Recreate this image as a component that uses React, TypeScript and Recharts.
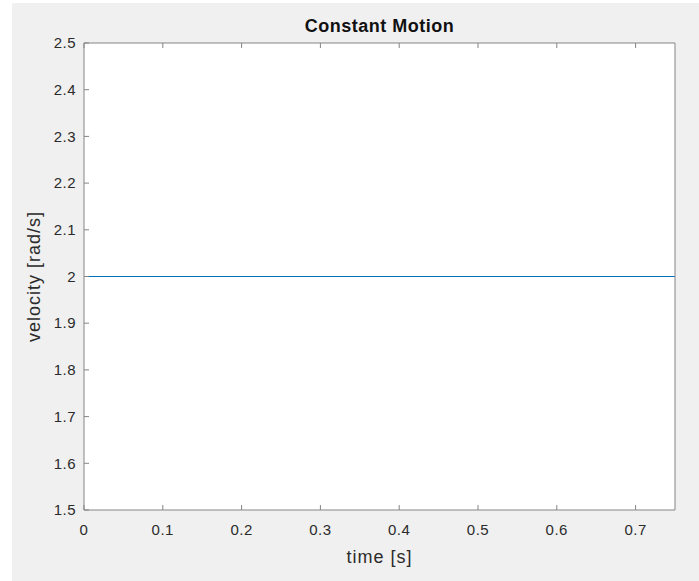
import { LineChart, Line, XAxis, YAxis, CartesianGrid, Label } from "recharts";

const timeValues = [0, 0.75];
const velocityValues = [2, 2];
const xTicks = [0, 0.1, 0.2, 0.3, 0.4, 0.5, 0.6, 0.7];
const yTicks = [1.5, 1.6, 1.7, 1.8, 1.9, 2, 2.1, 2.2, 2.3, 2.4, 2.5];

const data = timeValues.map((t, i) => ({ t, v: velocityValues[i] }));

const AXIS = "#858585";
const TEXT = "#2b2b2b";
const FONT = "'Liberation Sans', Arial, Helvetica, sans-serif";

const fmt = (v: number) => String(Number(v.toFixed(2)));

function BottomTick({ x, y, payload }: any) {
  return (
    <g>
      <line x1={x} y1={y} x2={x} y2={y - 5} stroke={AXIS} />
      <text
        x={x}
        y={y + 20}
        dy="0.35em"
        textAnchor="middle"
        fill={TEXT}
        fontSize={15}
        letterSpacing={0.5}
        fontFamily={FONT}
      >
        {fmt(payload.value)}
      </text>
    </g>
  );
}

function TopTick({ x, y }: any) {
  return <line x1={x} y1={y} x2={x} y2={y + 5} stroke={AXIS} />;
}

function LeftTick({ x, y, payload }: any) {
  return (
    <g>
      <line x1={x} y1={y} x2={x + 5} y2={y} stroke={AXIS} />
      <text
        x={x - 8}
        y={y}
        dy="0.35em"
        textAnchor="end"
        fill={TEXT}
        fontSize={15}
        letterSpacing={0.5}
        fontFamily={FONT}
      >
        {fmt(payload.value)}
      </text>
    </g>
  );
}

function RightTick({ x, y }: any) {
  return <line x1={x} y1={y} x2={x - 5} y2={y} stroke={AXIS} />;
}

export default function App() {
  return (
    <div style={{ position: "absolute", left: 0, top: 0, width: 699, height: 581, background: "#fff" }}>
      <div style={{ position: "absolute", left: 12, top: 3, width: 687, height: 578, background: "#f0f0f0" }} />
      <div
        style={{
          position: "absolute",
          left: 84,
          top: 16,
          width: 591,
          textAlign: "center",
          fontFamily: FONT,
          fontWeight: "bold",
          fontSize: 18,
          letterSpacing: 0.5,
          color: "#111",
        }}
      >
        Constant Motion
      </div>
      <div style={{ position: "absolute", left: 0, top: 0 }}>
        <LineChart width={699} height={581} data={data} margin={{ top: 33, right: 14, bottom: 21, left: 24 }}>
          <CartesianGrid horizontal={false} vertical={false} fill="#ffffff" />
          <XAxis
            xAxisId="b"
            dataKey="t"
            type="number"
            domain={[0, 0.75]}
            ticks={xTicks}
            height={50}
            tickSize={0}
            tickMargin={0}
            tick={<BottomTick />}
            axisLine={{ stroke: AXIS }}
            interval={0}
          >
            <Label
              value="time [s]"
              position="insideBottom"
              offset={0}
              dy={3}
              fill={TEXT}
              fontSize={18}
              letterSpacing={1}
              fontFamily={FONT}
            />
          </XAxis>
          <XAxis
            xAxisId="t"
            orientation="top"
            dataKey="t"
            type="number"
            domain={[0, 0.75]}
            ticks={xTicks}
            height={10}
            tickSize={0}
            tickMargin={0}
            tick={<TopTick />}
            axisLine={{ stroke: AXIS }}
            interval={0}
          />
          <YAxis
            yAxisId="l"
            type="number"
            domain={[1.5, 2.5]}
            ticks={yTicks}
            width={60}
            tickSize={0}
            tickMargin={0}
            tick={<LeftTick />}
            axisLine={{ stroke: AXIS }}
            interval={0}
          >
            <Label
              value="velocity [rad/s]"
              angle={-90}
              position="insideLeft"
              offset={0}
              dx={10}
              style={{ textAnchor: "middle" }}
              fill={TEXT}
              fontSize={18}
              letterSpacing={1}
              fontFamily={FONT}
            />
          </YAxis>
          <YAxis
            yAxisId="r"
            orientation="right"
            type="number"
            domain={[1.5, 2.5]}
            ticks={yTicks}
            width={10}
            tickSize={0}
            tickMargin={0}
            tick={<RightTick />}
            axisLine={{ stroke: AXIS }}
            interval={0}
          />
          <Line
            xAxisId="b"
            yAxisId="l"
            dataKey="v"
            stroke="#0072BD"
            strokeWidth={1}
            dot={false}
            isAnimationActive={false}
          />
        </LineChart>
      </div>
    </div>
  );
}
